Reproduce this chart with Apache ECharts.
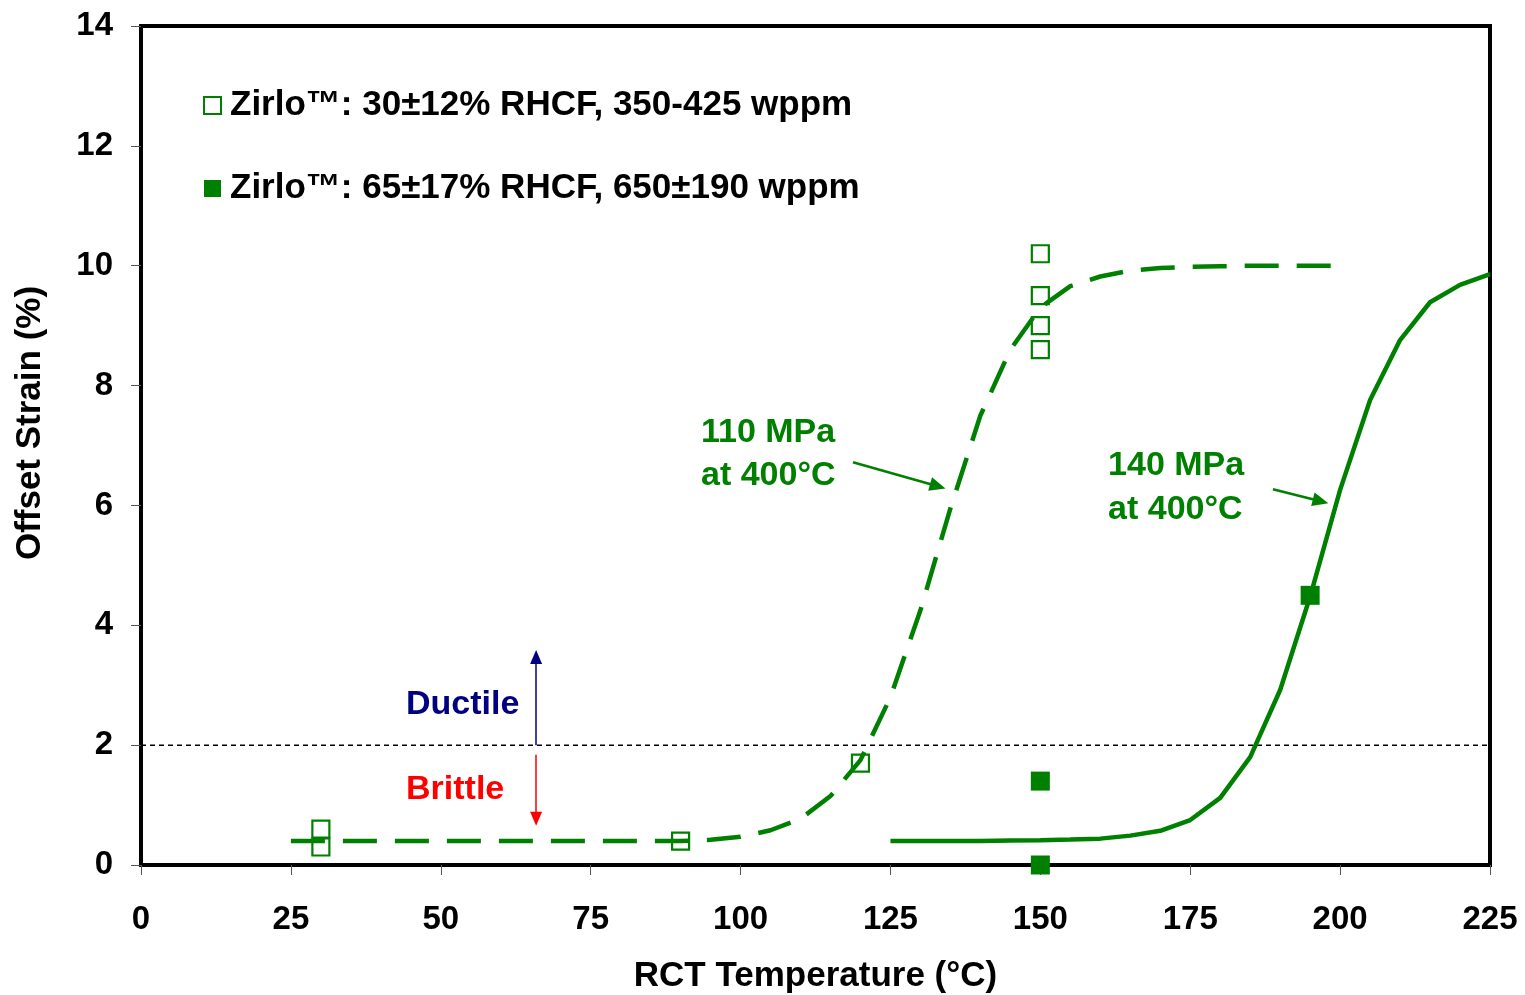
<!DOCTYPE html>
<html>
<head>
<meta charset="utf-8">
<title>Offset Strain vs RCT Temperature</title>
<script src="https://cdn.jsdelivr.net/npm/echarts@6.0.0/dist/echarts.min.js"></script>
<style>
  html, body { margin: 0; padding: 0; background: #fff; }
  #chart { width: 1525px; height: 995px; }
</style>
</head>
<body>
<div id="chart"></div>
<script>
// ---- data ----
const xTicks = [0, 25, 50, 75, 100, 125, 150, 175, 200, 225];
const yTicks = [0, 2, 4, 6, 8, 10, 12, 14];

// 110 MPa hoop stress at 400°C (dashed trend)
const trend110Temp = [25, 30, 35, 40, 45, 50, 55, 60, 65, 70, 75, 80, 85, 90,
  95, 100, 105, 110, 115, 120, 125, 130, 135, 140, 145, 150, 155, 160, 165,
  170, 175, 180, 185, 190, 195, 200];
const trend110Strain = [0.4, 0.4, 0.4, 0.4, 0.4, 0.4, 0.4, 0.4, 0.4, 0.4, 0.4, 0.4, 0.4, 0.4,
  0.42, 0.47, 0.58, 0.77, 1.15, 1.75, 2.8, 4.25, 5.95, 7.5, 8.6, 9.3, 9.66, 9.82, 9.92,
  9.96, 9.98, 9.99, 10.0, 10.0, 10.0, 10.0];

// 140 MPa hoop stress at 400°C (solid trend)
const trend140Temp = [125, 130, 135, 140, 145, 150, 155, 160, 165, 170, 175,
  180, 185, 190, 195, 200, 205, 210, 215, 220, 225];
const trend140Strain = [0.4, 0.4, 0.4, 0.4, 0.41, 0.415, 0.425, 0.44, 0.49, 0.57, 0.75,
  1.12, 1.8, 2.92, 4.48, 6.26, 7.76, 8.76, 9.39, 9.68, 9.86];

// Zirlo™ test results
const lowRhcfName = 'Zirlo™: 30±12% RHCF, 350-425 wppm';
const lowRhcfTemp = [30, 30, 90, 120, 150, 150, 150, 150];
const lowRhcfStrain = [0.6, 0.3, 0.4, 1.7, 10.2, 9.5, 9.0, 8.6];

const highRhcfName = 'Zirlo™: 65±17% RHCF, 650±190 wppm';
const highRhcfTemp = [150, 150, 195];
const highRhcfStrain = [1.4, 0, 4.5];

// ductile / brittle threshold
const thresholdStrain = 2;

// ---- helpers ----
const zip = (xs, ys) => xs.map((x, i) => [x, ys[i]]);
const FONT = '"Liberation Sans", Arial, Helvetica, sans-serif';
const GREEN = '#008000';
const NAVY = '#000080';
const RED = '#ff0000';

const tickLabel = { color: '#000', fontSize: 33, fontWeight: 'bold', fontFamily: FONT };

// arrow helper: a markLine segment in data coordinates ending in a triangle head
function arrowSeries(name, from, to, color, width, head) {
  return {
    name: name,
    type: 'line',
    data: [],
    silent: true,
    markLine: {
      silent: true,
      animation: false,
      symbol: ['none', 'triangle'],
      symbolSize: head,
      label: { show: false },
      emphasis: { disabled: true },
      lineStyle: { color: color, width: width, type: 'solid' },
      itemStyle: { color: color },
      data: [[{ coord: from }, { coord: to }]]
    }
  };
}

const chart = echarts.init(document.getElementById('chart'), null, { renderer: 'canvas' });

const option = {
  animation: false,
  backgroundColor: '#fff',
  grid: {
    left: 141, right: 35, top: 26, bottom: 130,
    outerBoundsMode: 'none',
    containLabel: false,
    show: true, borderColor: '#000', borderWidth: 4, backgroundColor: 'transparent'
  },
  xAxis: {
    type: 'value', min: xTicks[0], max: xTicks[xTicks.length - 1], interval: 25,
    axisLine: { show: false },
    axisTick: { show: true, length: 10, lineStyle: { color: '#555', width: 1 } },
    splitLine: { show: false },
    axisLabel: Object.assign({ margin: 38 }, tickLabel),
    name: 'RCT Temperature (°C)',
    nameLocation: 'middle',
    nameGap: 94,
    nameTextStyle: { color: '#000', fontSize: 35, fontWeight: 'bold', fontFamily: FONT }
  },
  yAxis: {
    type: 'value', min: yTicks[0], max: yTicks[yTicks.length - 1], interval: 2,
    axisLine: { show: false },
    axisTick: { show: true, length: 10, lineStyle: { color: '#555', width: 1 } },
    splitLine: { show: false },
    axisLabel: Object.assign({ margin: 28 }, tickLabel)
  },
  legend: {
    orient: 'vertical',
    left: 203, top: 88,
    padding: 0,
    itemGap: 48,
    itemWidth: 17, itemHeight: 17,
    selectedMode: false,
    data: [lowRhcfName, highRhcfName],
    textStyle: { color: '#000', fontSize: 35, fontWeight: 'bold', fontFamily: FONT, padding: [0, 0, 0, 4] }
  },
  series: [
    {
      name: 'threshold',
      type: 'line',
      data: [[xTicks[0], thresholdStrain], [xTicks[xTicks.length - 1], thresholdStrain]],
      symbol: 'none',
      silent: true,
      lineStyle: { color: '#000', width: 1.5, type: [5, 4] },
      z: 1
    },
    {
      name: '110 MPa at 400°C',
      type: 'line',
      data: zip(trend110Temp, trend110Strain),
      symbol: 'none',
      silent: true,
      lineStyle: { color: GREEN, width: 4.5, type: [34, 18], cap: 'butt' },
      z: 2
    },
    {
      name: '140 MPa at 400°C',
      type: 'line',
      data: zip(trend140Temp, trend140Strain),
      symbol: 'none',
      silent: true,
      lineStyle: { color: GREEN, width: 4.5 },
      z: 2
    },
    {
      name: lowRhcfName,
      type: 'scatter',
      data: zip(lowRhcfTemp, lowRhcfStrain),
      symbol: 'rect',
      symbolSize: 17,
      clip: false,
      itemStyle: { color: 'rgba(0,0,0,0)', borderColor: GREEN, borderWidth: 2.2, opacity: 1 },
      z: 3
    },
    {
      name: highRhcfName,
      type: 'scatter',
      data: zip(highRhcfTemp, highRhcfStrain),
      symbol: 'rect',
      symbolSize: 19,
      clip: false,
      itemStyle: { color: GREEN, opacity: 1 },
      z: 4
    },
    arrowSeries('ductile-arrow', [65.9, thresholdStrain], [65.9, 3.47], NAVY, 1.5, [12, 14]),
    arrowSeries('brittle-arrow', [65.9, 1.84], [65.9, 0.77], RED, 1.5, [12, 14]),
    arrowSeries('note110-arrow', [118.75, 6.72], [132.9, 6.32], GREEN, 2.5, [14, 16]),
    arrowSeries('note140-arrow', [188.8, 6.27], [196.75, 6.07], GREEN, 2.5, [14, 16])
  ]
};

chart.setOption(option);

// text notes anchored in data coordinates (left edge, vertical middle)
const notes = [
  { text: '110 MPa\nat 400°C', at: [93.4, 6.85], color: GREEN, lineHeight: 43 },
  { text: '140 MPa\nat 400°C', at: [161.3, 6.30], color: GREEN, lineHeight: 44 },
  { text: 'Ductile', at: [44.2, 2.68], color: NAVY, lineHeight: 40 },
  { text: 'Brittle', at: [44.2, 1.26], color: RED, lineHeight: 40 }
];

const graphics = notes.map(n => {
  const p = chart.convertToPixel({ gridIndex: 0 }, n.at);
  return {
    type: 'text',
    x: p[0], y: p[1],
    silent: true,
    style: {
      text: n.text,
      fill: n.color,
      font: 'bold 34px ' + FONT,
      align: 'left',
      verticalAlign: 'middle',
      lineHeight: n.lineHeight
    }
  };
});

// vertical y-axis title
graphics.push({
  type: 'text',
  x: 30, y: 423,
  rotation: Math.PI / 2,
  silent: true,
  style: {
    text: 'Offset Strain (%)',
    fill: '#000',
    font: 'bold 35px ' + FONT,
    align: 'center',
    verticalAlign: 'middle'
  }
});

chart.setOption({ graphic: graphics });
</script>
</body>
</html>
